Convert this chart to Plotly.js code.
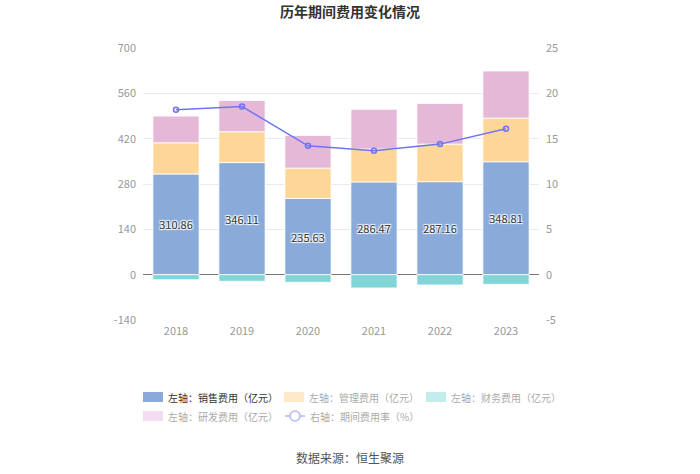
<!DOCTYPE html>
<html>
<head>
<meta charset="utf-8">
<script src="https://cdn.plot.ly/plotly-3.0.1.min.js"></script>
<style>html,body{margin:0;padding:0;background:#fff;}#chart{width:700px;height:474px;}</style>
</head>
<body>
<div id="chart"></div>
<script>
const years = ["2018", "2019", "2020", "2021", "2022", "2023"];
const salesExp = [310.86, 346.11, 235.63, 286.47, 287.16, 348.81];
const mgmtExp = [96.3, 95.2, 93.4, 101.5, 116.0, 134.8];
const finExp = [-15.5, -20.4, -23.5, -41.0, -31.8, -29.8];
const rdExp = [82.6, 96.7, 101.0, 122.5, 125.8, 145.3];
const expRate = [18.19, 18.55, 14.21, 13.66, 14.40, 16.09];
const seriesNames = ["左轴：销售费用（亿元）", "左轴：管理费用（亿元）", "左轴：财务费用（亿元）", "左轴：研发费用（亿元）", "右轴：期间费用率（%）"];
const leftTicks = [-140, 0, 140, 280, 420, 560, 700];
const rightTicks = [-5, 0, 5, 10, 15, 20, 25];

const font = '"Noto Sans CJK SC", "Noto Sans", sans-serif';
const colors = ["#8aabd9", "#fed798", "#82d5d6", "#e6b8d8", "#6e74f4"];
const fadedColors = ["#8aabd9", "#fde9c8", "#c3ecec", "#f3dced", "#b4b7f8"];
const barLine = {color: "#ffffff", width: 0.8};

const traces = [
  {type: "bar", name: seriesNames[0], x: years, y: salesExp, marker: {color: colors[0], line: barLine},
   text: salesExp.map(v => v.toFixed(2)), textposition: "inside", insidetextanchor: "middle",
   textfont: {family: font, size: 11, color: "#333", shadow: "1px 1px 1px #fff, -1px -1px 1px #fff, 1px -1px 1px #fff, -1px 1px 1px #fff"},
   constraintext: "none", width: 0.7, showlegend: false},
  {type: "bar", name: seriesNames[1], x: years, y: mgmtExp, marker: {color: colors[1], line: barLine}, width: 0.7, showlegend: false},
  {type: "bar", name: seriesNames[2], x: years, y: finExp, marker: {color: colors[2], line: barLine}, width: 0.7, showlegend: false},
  {type: "bar", name: seriesNames[3], x: years, y: rdExp, marker: {color: colors[3], line: barLine}, width: 0.7, showlegend: false},
  {type: "scatter", mode: "lines+markers", name: seriesNames[4], x: years, y: expRate, yaxis: "y2",
   line: {color: colors[4], width: 1.5}, marker: {symbol: "circle-open", size: 5, color: colors[4], line: {width: 1.5, color: colors[4]}},
   showlegend: false}
];

// custom legend
const shapes = [];
const annotations = [];
const legendItems = [
  {x: 143, y: 397, kind: "box", idx: 0},
  {x: 284, y: 397, kind: "box", idx: 1},
  {x: 426, y: 397, kind: "box", idx: 2},
  {x: 143, y: 416, kind: "box", idx: 3},
  {x: 285, y: 416, kind: "line", idx: 4}
];
const W = 700, H = 474;
legendItems.forEach(it => {
  const c = fadedColors[it.idx];
  if (it.kind === "box") {
    shapes.push({type: "rect", xref: "paper", yref: "paper",
      x0: (it.x - 143) / 396, x1: (it.x + 20 - 143) / 396,
      y0: (320 - (it.y + 5)) / 272, y1: (320 - (it.y - 5)) / 272,
      fillcolor: c, line: {width: 0}, layer: "above"});
  } else {
    shapes.push({type: "line", xref: "paper", yref: "paper",
      x0: (it.x - 143) / 396, x1: (it.x + 20 - 143) / 396,
      y0: (320 - it.y) / 272, y1: (320 - it.y) / 272, line: {color: c, width: 1.5}});
    shapes.push({type: "circle", xref: "paper", yref: "paper",
      x0: (it.x + 5 - 143) / 396, x1: (it.x + 15 - 143) / 396,
      y0: (320 - (it.y + 5)) / 272, y1: (320 - (it.y - 5)) / 272,
      fillcolor: "#fff", line: {color: c, width: 1.5}});
  }
  annotations.push({xref: "paper", yref: "paper", x: (it.x + 23 - 143) / 396, y: (320 - it.y) / 272,
    xanchor: "left", yanchor: "middle", showarrow: false, text: seriesNames[it.idx],
    font: {family: font, size: 10, color: it.idx === 0 ? "#333" : "#aaa"}});
});
annotations.push({xref: "paper", yref: "paper", x: (350 - 143) / 396, y: (320 - 457) / 272,
  xanchor: "center", yanchor: "middle", showarrow: false, text: "数据来源：恒生聚源",
  font: {family: font, size: 12, color: "#555"}});

const layout = {
  width: W, height: H,
  margin: {l: 143, r: 161, t: 48, b: 154, pad: 0},
  paper_bgcolor: "#fff", plot_bgcolor: "#fff",
  title: {text: "<b>历年期间费用变化情况</b>", x: 0.5, xanchor: "center", y: 0.975, yanchor: "middle",
    font: {family: font, size: 14, color: "#333"}},
  barmode: "relative",
  bargap: 0.3,
  hovermode: false,
  showlegend: false,
  xaxis: {type: "category", tickfont: {family: font, size: 11, color: "#999"}, showgrid: false,
    zeroline: false, showline: false, ticks: "", ticklen: 0, fixedrange: true, ticklabelstandoff: 3},
  yaxis: {range: [-140, 700], tickvals: leftTicks, ticktext: leftTicks.map(String),
    tickfont: {family: font, size: 11, color: "#999"}, gridcolor: "#e6eaf3", gridwidth: 1,
    zeroline: true, zerolinecolor: "#777", zerolinewidth: 1, showline: false, ticks: "", ticklabelstandoff: 6},
  yaxis2: {range: [-5, 25], tickvals: rightTicks, ticktext: rightTicks.map(String), overlaying: "y", side: "right",
    tickfont: {family: font, size: 11, color: "#999"}, showgrid: false, zeroline: false, showline: false, ticks: "", ticklabelstandoff: 6},
  shapes: shapes,
  annotations: annotations
};

Plotly.newPlot("chart", traces, layout, {displayModeBar: false, staticPlot: true});
</script>
</body>
</html>
